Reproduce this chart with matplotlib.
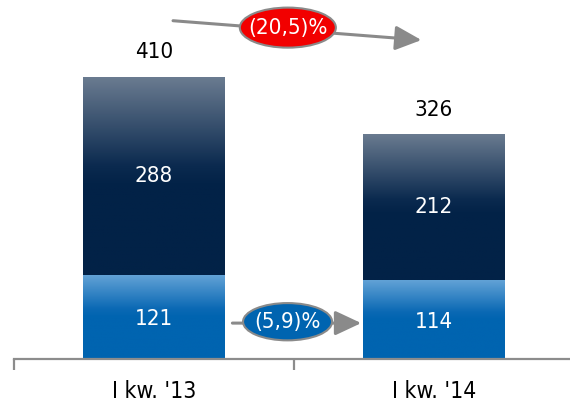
import matplotlib
matplotlib.use("Agg")
import matplotlib.pyplot as plt
import numpy as np
from matplotlib.colors import LinearSegmentedColormap
from matplotlib.patches import Ellipse

categories = ["I kw. '13", "I kw. '14"]
lower_values = [121, 114]
upper_values = [288, 212]
totals = [410, 326]
change_total = "(20,5)%"
change_lower = "(5,9)%"

FONT = {"family": "DejaVu Sans", "stretch": "condensed"}
FS = 16

fig = plt.figure(figsize=(5.70, 4.04), dpi=100)
ax = fig.add_axes([14 / 570, 45 / 404, 560 / 570, 359 / 404])
ax.set_xlim(-0.5, 1.5)
ax.set_ylim(0, 520)

x = np.arange(len(categories))
width = 0.507

upper_cmap = LinearSegmentedColormap.from_list(
    "upper", [(0.0, "#6b7c91"), (0.45, "#0b2a4f"), (0.55, "#022247"), (1.0, "#022247")])
lower_cmap = LinearSegmentedColormap.from_list(
    "lower", [(0.0, "#62a2d6"), (0.4, "#0b69b4"), (0.5, "#0064b0"), (1.0, "#0064b0")])


def gradient_bars(xs, heights, bottoms, cmap):
    bars = ax.bar(xs, heights, width, bottom=bottoms, color="none", linewidth=0)
    grad = np.linspace(0, 1, 256).reshape(-1, 1)
    for b in bars:
        x0, y0 = b.get_x(), b.get_y()
        im = ax.imshow(grad, cmap=cmap, aspect="auto",
                       extent=(x0, x0 + b.get_width(), y0, y0 + b.get_height()),
                       origin="upper", zorder=2)
        im.set_clip_path(b)
    return bars


gradient_bars(x, lower_values, 0, lower_cmap)
gradient_bars(x, upper_values, lower_values, upper_cmap)
ax.set_xlim(-0.5, 1.5)
ax.set_ylim(0, 520)

for i in range(len(categories)):
    ax.text(x[i], lower_values[i] / 2 - 3, str(lower_values[i]), color="white",
            ha="center", va="center", fontsize=FS, zorder=5, **FONT)
    ax.text(x[i], lower_values[i] + upper_values[i] / 2, str(upper_values[i]),
            color="white", ha="center", va="center", fontsize=FS, zorder=5, **FONT)
    ax.text(x[i], totals[i] + 35, str(totals[i]), color="black",
            ha="center", va="center", fontsize=FS, zorder=5, **FONT)

# axis styling
for s in ["top", "right", "left"]:
    ax.spines[s].set_visible(False)
ax.spines["bottom"].set_color("#8c8c8c")
ax.spines["bottom"].set_linewidth(1.6)
ax.set_yticks([])
ax.set_xticks([-0.5, 0.5, 1.5])
ax.set_xticklabels([])
ax.tick_params(axis="x", which="major", direction="out", length=8, width=1.6, color="#8c8c8c")
ax.set_xticks(x, minor=True)
ax.set_xticklabels(categories, minor=True, fontsize=FS + 0.5, **FONT)
ax.tick_params(axis="x", which="minor", length=0, pad=15)

# change arrows
arrow_kw = dict(arrowstyle="-|>,head_length=1.6,head_width=0.75", color="#8a8a8a", lw=2.2,
                shrinkA=0, shrinkB=0)
ax.annotate("", xy=(0.955, 462), xytext=(0.068, 490), arrowprops=arrow_kw, zorder=6,
            annotation_clip=False)
ax.add_patch(Ellipse((0.478, 480), 0.343, 58, facecolor="#f20000", edgecolor="#8a8a8a",
                     lw=1.5, zorder=7, clip_on=False))
ax.text(0.478, 479, change_total, color="white", ha="center", va="center",
        fontsize=FS, zorder=8, **FONT)

ax.annotate("", xy=(0.74, 52), xytext=(0.28, 52), arrowprops=arrow_kw, zorder=6)
ax.add_patch(Ellipse((0.477, 54), 0.318, 54, facecolor="#0064b0", edgecolor="#8a8a8a",
                     lw=1.5, zorder=7))
ax.text(0.477, 53, change_lower, color="white", ha="center", va="center",
        fontsize=FS, zorder=8, **FONT)

fig.savefig("out.png", dpi=100)
